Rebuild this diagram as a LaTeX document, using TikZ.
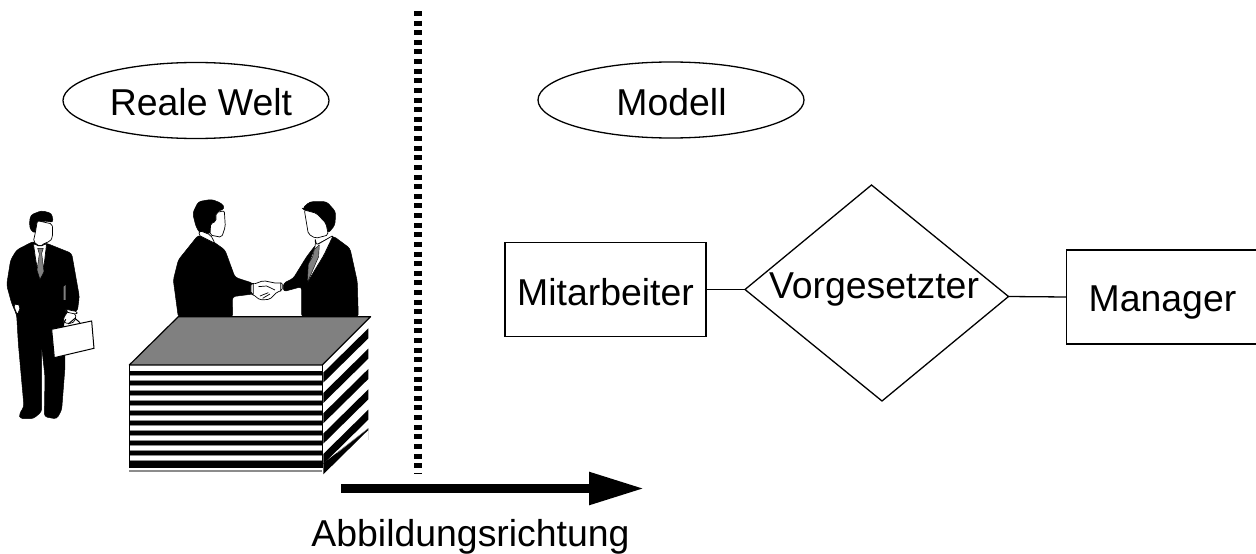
\documentclass[tikz,border=0pt]{standalone}
\usepackage{fontspec}
\setmainfont{Liberation Sans}
\usetikzlibrary{arrows.meta,shapes.geometric}
\tikzset{
  lbl/.style={font=\fontsize{37.4}{40}\selectfont,inner sep=0pt,text=black},
  oval/.style={draw,ellipse,line width=1.3pt,inner sep=0pt},
  entity/.style={draw,line width=1.3pt,inner sep=0pt},
  conn/.style={line width=1.3pt},
  ink/.style={fill=black,draw=black,line width=.5pt,line join=round,rounded corners=3pt},
  paper/.style={fill=white,draw=black,line width=.7pt,line join=round,rounded corners=2pt},
  tiecol/.style={fill=black!50,draw=black,line width=.4pt,line join=round},
  zoomA/.style={shift={(0,190)},x=.3333pt,y=-.3333pt},
  zoomB/.style={shift={(120,190)},x=.3333pt,y=-.3333pt},
}
\begin{document}
\begin{tikzpicture}[x=1pt,y=-1pt]
\useasboundingbox (0,0) rectangle (1256,554);
% divider
\coordinate (divtop) at (417.5,11);
\coordinate (divbot) at (417.5,473);
\draw[line width=8pt,dash pattern=on 5pt off 4.62pt] (divtop) -- (divbot);
% ovals
\node[oval,minimum width=266pt,minimum height=76pt] (ovalR) at (196,100.5) {};
\node[lbl] (tR) at (201,102) {Reale Welt};
\node[oval,minimum width=266pt,minimum height=76pt] (ovalM) at (671,100) {};
\node[lbl] (tM) at (671.5,102) {Modell};
% ER model
\node[entity,minimum width=201pt,minimum height=94.5pt] (mit) at (605.5,289.5) {};
\node[lbl] (tMit) at (605.5,292) {Mitarbeiter};
\coordinate (vorN) at (871.5,185);
\coordinate (vorE) at (1008.5,296.5);
\coordinate (vorS) at (882,401);
\coordinate (vorW) at (745,289.5);
\draw[conn,line join=miter] (vorN) -- (vorE) -- (vorS) -- (vorW) -- cycle;
\node[lbl] (tVor) at (874,289.5) {Vorgesetzter};
\node[entity,minimum width=190pt,minimum height=94pt] (man) at (1161.5,297) {};
\node[lbl] (tMan) at (1162.5,303) {Manager};
\draw[conn] (mit.east) -- (vorW);
\draw[conn] (vorE) -- (man.west);
% direction arrow
\coordinate (arrA) at (341,488.5);
\coordinate (arrB) at (644,488.5);
\draw[line width=8.7pt,-{Triangle[length=55pt,width=31pt]}] (arrA) -- (arrB);
\node[lbl] (tAbb) at (470.5,537) {Abbildungsrichtung};
% single man
\begin{scope}[zoomA]
  \path[ink] (98,155)--(50,180)--(32,210)--(20,285)--(35,340)--(50,375)--(55,460)--(72,650)--(58,672)--(60,686)--(100,686)--(125,665)--(125,470)--(135,560)--(133,680)--(170,687)--(185,660)--(195,530)--(193,420)--(190,385)--(205,360)--(232,365)--(238,320)--(215,190)--(140,160)--cycle;
  \path[fill=black!50] (191,290)--(197,285)--(197,330)--(191,330)--cycle;
  \path[ink] (88,100)--(92,75)--(125,62)--(155,70)--(160,98)--(135,92)--(115,100)--(108,130)--(92,122)--cycle;
  \path[paper] (100,155)--(106,128)--(112,92)--(157,102)--(158,140)--(150,155)--(136,158)--(120,170)--cycle;
  \path[paper] (100,160)--(120,170)--(140,160)--(133,220)--(120,268)--(108,215)--cycle;
  \path[tiecol] (113,175)--(130,175)--(125,190)--(132,245)--(120,268)--(111,240)--(118,192)--cycle;
  \path[paper] (40,345)--(50,340)--(62,350)--(52,375)--cycle;
  \path[paper] (190,385)--(205,362)--(228,372)--(225,395)--(205,402)--(190,395)--cycle;
  \path[paper] (198,358)--(232,365)--(230,373)--(198,366)--cycle;
  \draw[line width=1pt] (187,408)--(197,388) (205,402)--(225,385)--(240,398);
  \path[fill=white,draw=black,line width=1pt] (155,418)--(275,393)--(282,475)--(163,503)--cycle;
\end{scope}
% handshake
\begin{scope}[zoomB]
  \path[ink] (235,135)--(175,210)--(160,270)--(175,382)--(338,382)--(337,320)--(400,312)--(400,280)--(345,262)--(315,180)--(280,155)--cycle;
  \path[ink] (218,70)--(235,35)--(275,28)--(305,40)--(315,55)--(290,66)--(288,95)--(272,100)--(275,130)--(240,130)--(228,110)--cycle;
  \path[paper] (288,68)--(313,62)--(316,110)--(305,142)--(270,135)--(272,100)--(288,95)--cycle;
  \path[paper] (240,122)--(272,135)--(285,160)--(235,135)--cycle;
  \path[ink] (587,165)--(560,200)--(520,265)--(490,280)--(490,305)--(545,290)--(545,382)--(715,382)--(712,275)--(690,175)--(640,138)--cycle;
  \path[ink] (547,55)--(570,35)--(620,35)--(647,65)--(645,105)--(625,130)--(618,100)--(590,70)--(553,60)--cycle;
  \path[paper] (553,60)--(590,70)--(618,100)--(625,135)--(587,145)--(565,132)--cycle;
  \path[paper] (585,145)--(590,165)--(640,136)--(612,195)--(562,278)--(567,220)--(587,165)--cycle;
  \path[tiecol] (583,178)--(598,165)--(596,200)--(562,278)--(565,222)--(578,200)--cycle;
  \path[paper] (393,280)--(400,283)--(430,272)--(470,280)--(487,278)--(487,302)--(472,305)--(450,328)--(420,330)--(400,314)--(393,312)--cycle;
  \draw[line width=.7pt] (400,280)--(400,314) (482,278)--(482,304) (415,290)--(440,288)--(465,300) (420,318)--(445,308) (428,325)--(450,312);
  % stack
  \path[fill=white] (28,525) rectangle (607,835);
  \foreach \k in {0,...,9}{
    \fill[black!45] (28,{555+30*\k}) rectangle (607,{575+30*\k});
    \fill[white] (28,{559+30*\k}) rectangle (607,{571+30*\k});
    \fill[black] (28,{543+30*\k}) rectangle (607,{555+30*\k});
  }
  \fill[black] (28,825) rectangle (607,835);
  \foreach \k in {0,...,4}{
    \fill[black] (610,{548+61*\k})--(745,{415+61*\k})--(745,{445+61*\k})--(610,{578+61*\k})--cycle;
  }
  \fill[black] (610,{548+61*5})--(745,{415+61*5})--(745,{445+61*5})--(745,715)--(610,820)--cycle;
  \draw[black!40,line width=.4pt] (745,715)--(650,790);
  \path[fill=black!50,draw=black,line width=1.2pt,line join=round] (175,380)--(752,380)--(607,525)--(28,525)--cycle;
  \draw[line width=1.4pt] (28,525)--(28,835) (607,525)--(607,835);
\end{scope}
\end{tikzpicture}
\end{document}
